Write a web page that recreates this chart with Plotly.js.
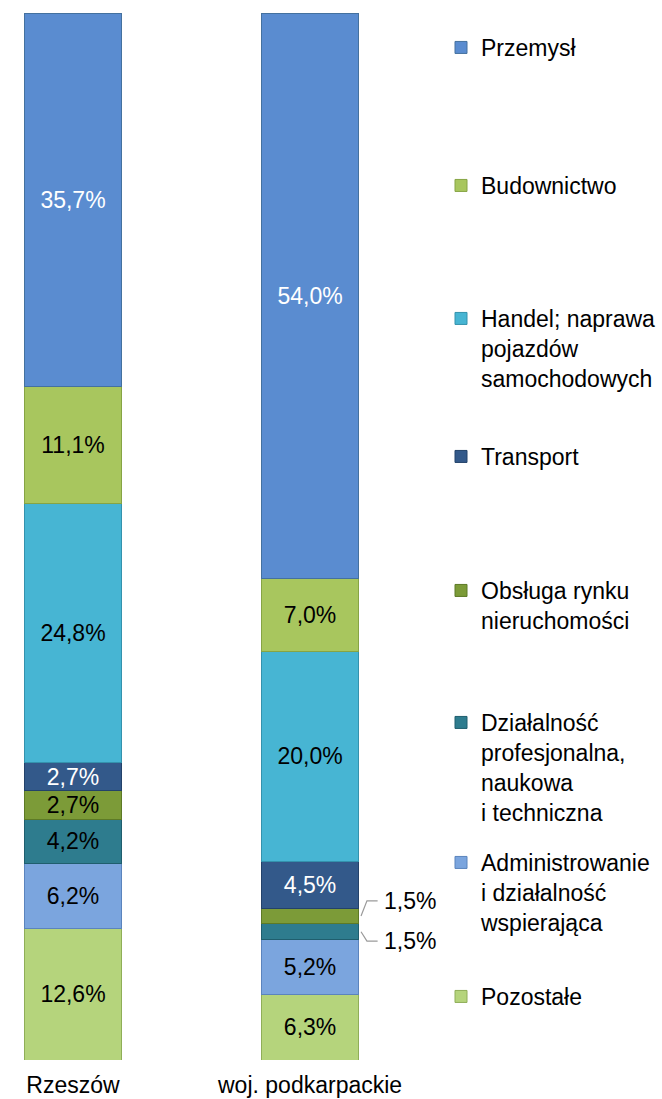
<!DOCTYPE html>
<html>
<head>
<meta charset="utf-8">
<script src="https://cdn.plot.ly/plotly-3.0.1.min.js"></script>
<style>
  html, body { margin: 0; padding: 0; background: #ffffff; }
  #chart { width: 662px; height: 1099px; }
</style>
</head>
<body>
<div id="chart"></div>
<script>
// Structure of employment by sector: Rzeszów vs woj. podkarpackie

const categories = ['Rzeszów', 'woj. podkarpackie'];

// bottom -> top of the stack
const sectors = [
  'Pozostałe',
  'Administrowanie<br>i działalność<br>wspierająca',
  'Działalność<br>profesjonalna,<br>naukowa<br>i techniczna',
  'Obsługa rynku<br>nieruchomości',
  'Transport',
  'Handel; naprawa<br>pojazdów<br>samochodowych',
  'Budownictwo',
  'Przemysł'
];

const rzeszowValues = [12.6, 6.2, 4.2, 2.7, 2.7, 24.8, 11.1, 35.7];
const podkarpackieValues = [6.3, 5.2, 1.5, 1.5, 4.5, 20.0, 7.0, 54.0];

const sectorColors = ['#b5d47c', '#7ba5de', '#2e7c8e', '#7c9b38', '#33598a', '#47b5d3', '#a8c65e', '#5a8cd0'];
const sectorLines = ['#8fae58', '#5b84bd', '#1f5e6e', '#5d7a26', '#23426a', '#3492ad', '#86a444', '#44719f'];
const labelColors = ['#000', '#000', '#000', '#000', '#fff', '#000', '#000', '#fff'];

// first-line centre of every legend entry (px from top), top entry first
const legendRows = [47, 185, 318, 456, 590, 722, 862, 996];

const FONT = 'Liberation Sans, Arial, sans-serif';
const FS = 23;

function fmt(v) {
  return v.toFixed(1).replace('.', ',') + '%';
}

const BAR_W = 0.41;
const traces = [];
const layout = {
  width: 662,
  height: 1099,
  margin: { l: 0, r: 232, t: 13, b: 39 },
  paper_bgcolor: '#ffffff',
  plot_bgcolor: '#ffffff',
  barmode: 'stack',
  showlegend: true,
  font: { family: FONT, size: FS, color: '#000' },
  uniformtext: { mode: 'show', minsize: FS },
  xaxis: {
    type: 'category',
    range: [-0.308, 1.506],
    showgrid: false,
    zeroline: false,
    showline: false,
    ticks: '',
    ticklabelstandoff: 9,
    tickfont: { family: FONT, size: FS, color: '#000' },
    fixedrange: true
  },
  yaxis: {
    range: [0, 100],
    visible: false,
    fixedrange: true
  },
  annotations: [],
  shapes: []
};

sectors.forEach((name, i) => {
  const vals = [rzeszowValues[i], podkarpackieValues[i]];
  const legendId = i === sectors.length - 1 ? 'legend' : 'legend' + (sectors.length - i);
  traces.push({
    type: 'bar',
    x: categories,
    y: vals,
    width: BAR_W,
    name: name,
    legend: legendId,
    showlegend: true,
    marker: { color: sectorColors[i], line: { color: sectorLines[i], width: 1 } },
    // tiny segments get their label outside the bar
    text: vals.map(v => (v < 2 ? '' : fmt(v))),
    textposition: 'inside',
    insidetextanchor: 'middle',
    textangle: 0,
    insidetextfont: { family: FONT, size: FS, color: labelColors[i] },
    hoverinfo: 'name+y'
  });

  const row = legendRows[sectors.length - 1 - i];
  layout[legendId] = {
    visible: true,
    xref: 'container',
    yref: 'container',
    x: 441 / 662,
    y: 1 - (row - 21) / 1099,
    xanchor: 'left',
    yanchor: 'top',
    valign: 'top',
    bgcolor: 'rgba(0,0,0,0)',
    font: { family: FONT, size: FS, color: '#000' }
  };
});

// outside labels for the small woj. podkarpackie segments
const small = [];
let cum = 0;
podkarpackieValues.forEach((v, i) => {
  if (v < 2) small.push({ v: v, mid: cum + v / 2 });
  cum += v;
});
// highest segment's label goes up, the lower one goes down
small.sort((a, b) => b.mid - a.mid);
const edge = 1 + BAR_W / 2;
small.forEach((s, k) => {
  const ly = k === 0 ? s.mid + 1.45 : s.mid - 0.9;
  layout.shapes.push({
    type: 'path',
    xref: 'x',
    yref: 'y',
    path: `M ${edge + 0.01},${s.mid} L ${edge + 0.035},${ly} L ${edge + 0.08},${ly}`,
    line: { color: '#9a9a9a', width: 1.2 }
  });
  layout.annotations.push({
    x: edge + 0.1,
    y: ly,
    xref: 'x',
    yref: 'y',
    xanchor: 'left',
    yanchor: 'middle',
    text: fmt(s.v),
    showarrow: false,
    font: { family: FONT, size: FS, color: '#000' }
  });
});

Plotly.newPlot('chart', traces, layout, { displayModeBar: false, staticPlot: true });
</script>
</body>
</html>
